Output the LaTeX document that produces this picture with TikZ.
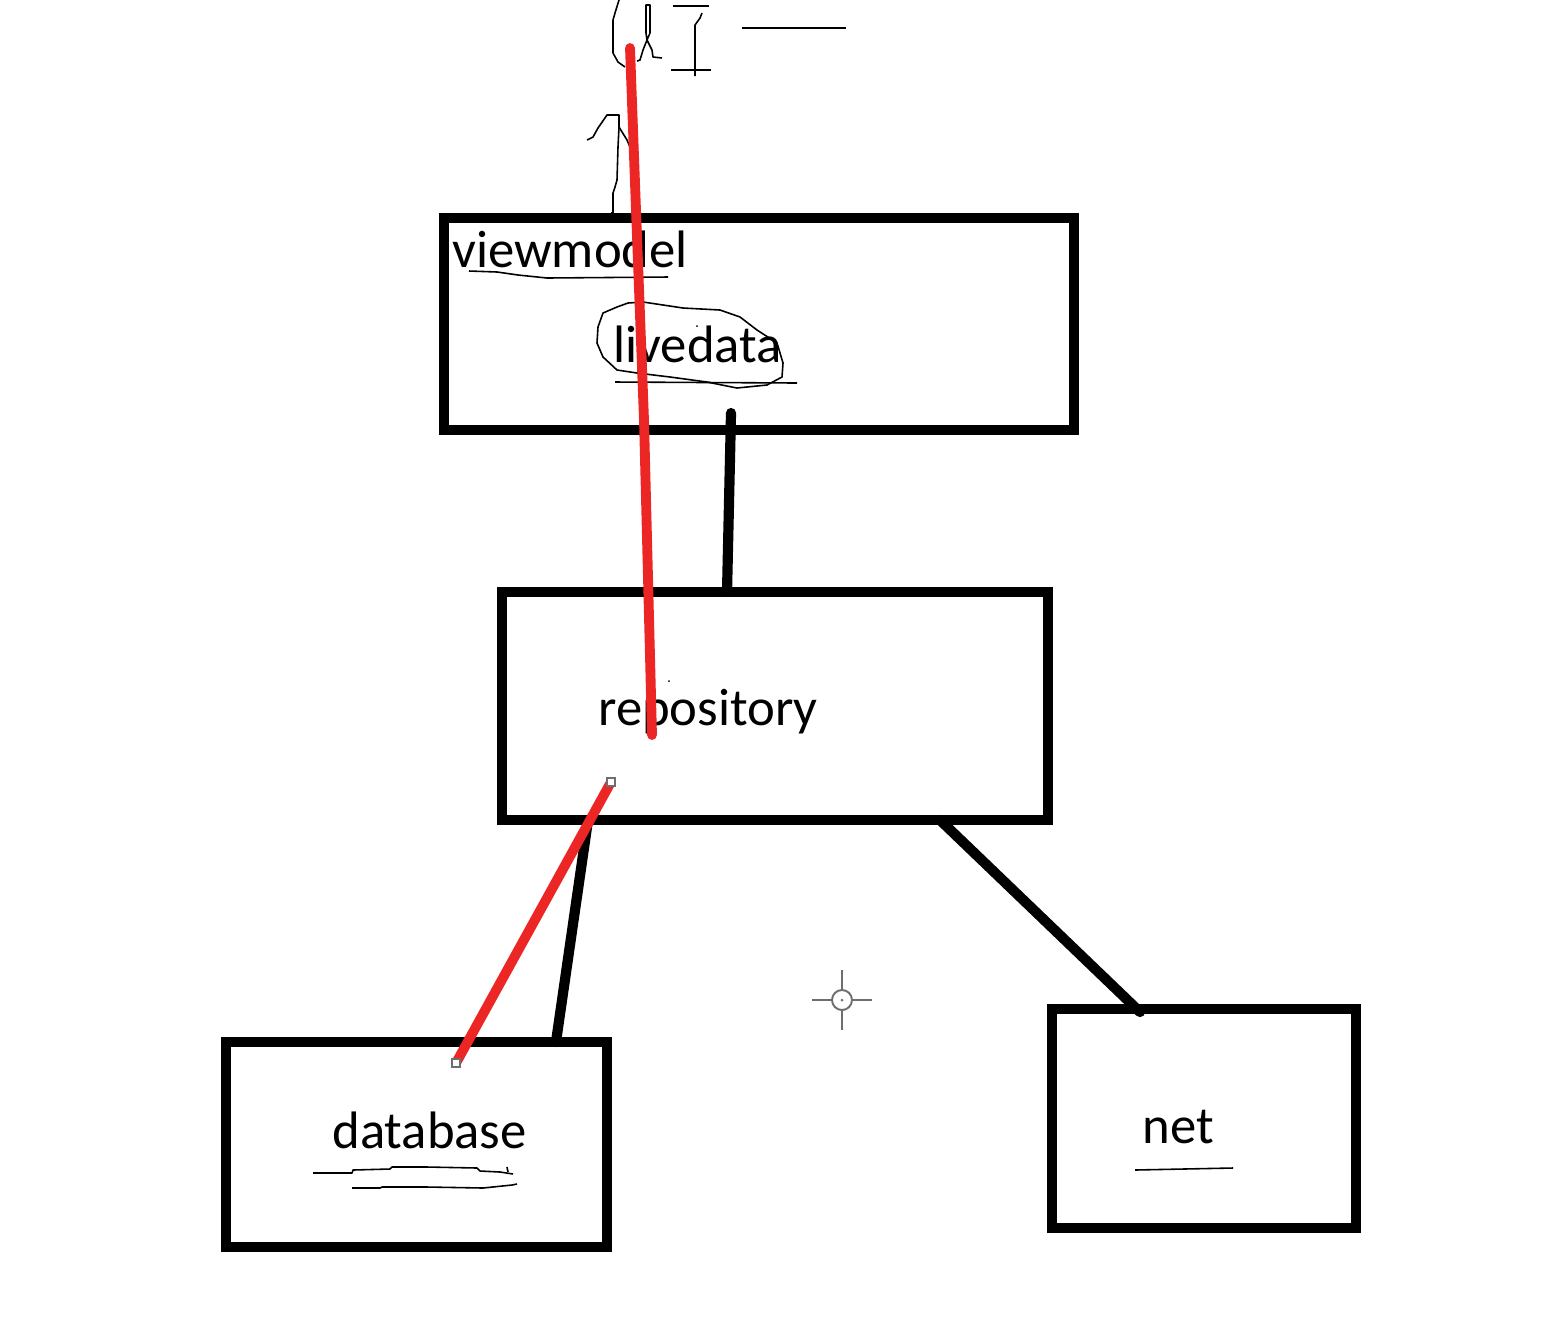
\documentclass[tikz,border=0pt]{standalone}
\usepackage{fontspec}
\setmainfont{Carlito}
\definecolor{pen}{RGB}{236,38,36}
\definecolor{handle}{RGB}{110,110,110}

\begin{document}
\begin{tikzpicture}[x=0.02cm, y=-0.02cm,
		box/.style={draw, line width=5.8pt, inner sep=0pt, outer sep=0pt},
		link/.style={line width=5.8pt, line cap=round},
		redline/.style={pen, line width=5.6pt},
		scribble/.style={line width=0.9pt, line join=round},
		label/.style={anchor=base west, inner sep=0pt, font=\fontsize{30}{36}\selectfont}]
			\useasboundingbox (0, 0) rectangle (1565, 1320);
			\node[box, minimum width=12.6cm, minimum height=4.24cm] (viewmodel) at (759, 324) {};
			\node[box, minimum width=10.92cm, minimum height=4.56cm] (repository) at (775, 706) {};
			\node[box, minimum width=7.62cm, minimum height=4.1cm] (database) at (416.5, 1144.5) {};
			\node[box, minimum width=6.08cm, minimum height=4.38cm] (net) at (1204, 1118.5) {};
			\node[label] (vmtext) at (452, 267) {viewmodel};
			\node[label] (ldtext) at (613, 362) {livedata};
			\node[label] (repotext) at (598, 725) {repository};
			\node[label] (dbtext) at (332, 1148) {database};
			\node[label] (nettext) at (1142, 1143) {net};
			\draw[link] ([xshift=5.74cm, yshift=0.34cm]viewmodel.south west) -- ([xshift=4.5cm]repository.north west);
			\draw[link] ([xshift=1.72cm]repository.south west) -- ([xshift=6.6cm]database.north west);
			\draw[link] ([xshift=8.76cm]repository.south west) -- ([xshift=1.76cm, yshift=-0.06cm]net.north west);
			\draw[scribble] (469, 271) -- (497, 272) -- (518, 275) -- (547, 278) -- (668, 277);
			\draw[scribble] (628, 303) -- (617, 307) -- (603, 313) -- (598, 327) -- (597, 343) -- (603, 357) -- (617, 370) -- (637, 373) -- (670, 377) -- (707, 382) -- (737, 388) -- (767, 385) -- (782, 377) -- (783, 363) -- (777, 343) -- (757, 330) -- (740, 317) -- (720, 310) -- (683, 308) -- (663, 305) -- (643, 302) -- cycle;
			\draw[scribble] (615, 382) -- (797, 383);
			\draw[scribble] (313, 1173) -- (352, 1173) -- (353, 1170) -- (390, 1169) -- (392, 1167) -- (427, 1167) -- (477, 1168) -- (480, 1171) -- (500, 1172) -- (513, 1174);
			\draw[scribble] (507, 1167) -- (508, 1172);
			\draw[scribble] (352, 1188) -- (380, 1188) -- (382, 1187) -- (427, 1187) -- (483, 1188) -- (512, 1185) -- (517, 1184);
			\draw[scribble] (1135, 1170) -- (1233, 1168);
			\draw[scribble] (619, 0) -- (615, 13) -- (613, 20) -- (613, 53) -- (618, 62) -- (625, 67);
			\draw[scribble] (646, 33) -- (646, 5) -- (650, 5) -- (650, 33) -- (647, 40) -- (646, 33);
			\draw[scribble] (647, 40) -- (643, 50) -- (640, 60) -- (637, 61);
			\draw[scribble] (647, 40) -- (652, 50) -- (653, 57) -- (662, 58);
			\draw[scribble] (673, 6) -- (709, 6);
			\draw[scribble] (702, 13) -- (700, 18) -- (695, 25) -- (695, 76);
			\draw[scribble] (671, 70) -- (711, 70);
			\draw[scribble] (742, 28) -- (846, 28);
			\draw[scribble] (587, 140) -- (593, 137) -- (598, 128) -- (607, 115) -- (619, 115) -- (619, 127) -- (627, 140) -- (630, 147);
			\draw[scribble] (619, 127) -- (618, 147) -- (617, 180) -- (615, 187) -- (613, 193) -- (613, 213) -- (611, 213);
			\fill (697, 326) circle (1);
			\fill (669, 681) circle (1);
			\draw[redline, line cap=round] (630, 48) -- (636, 210) -- (644, 420) -- (652, 735);
			\draw[redline] (611, 782) -- (456, 1063);
			\foreach \p in {(611, 782), (456, 1063)}
				\draw[handle, fill=white, line width=0.7pt] \p ++(-4, -4) rectangle ++(8, 8);
			\draw[handle, line width=1.1pt] (842, 1000) circle (10);
			\fill[handle] (842, 1000) circle (1.5);
			\draw[handle, line width=1.1pt] (812, 1000) -- (832, 1000) (852, 1000) -- (872, 1000) (842, 970) -- (842, 990) (842, 1010) -- (842, 1030);
		\end{tikzpicture}
\end{document}
